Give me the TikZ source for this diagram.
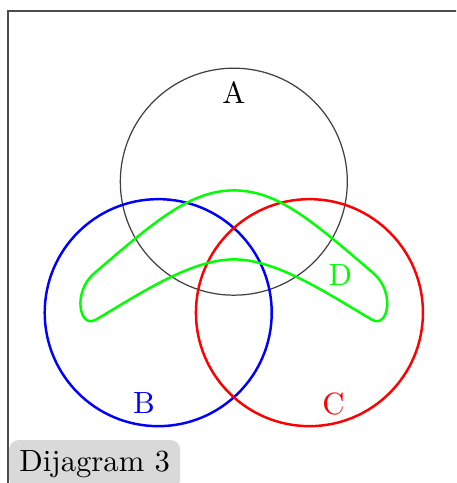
\documentclass[tikz,border=0pt]{standalone}
\usepackage{tikz}
\usetikzlibrary{positioning,calc}

\begin{document}
\begin{tikzpicture}[
      frame/.style={draw=black!70, line width=0.6pt},
      caption/.style={fill=gray!30, rounded corners=3pt, font=\normalsize},
      venn/.style={circle, draw, minimum size=2.6cm, inner sep=0pt},
      lbl/.style={inner sep=0pt}]
    \useasboundingbox (-2.678,-2.451) rectangle (2.546,3.081);
    \clip (-2.678,-2.451) rectangle (2.546,3.081);
    \node[frame, anchor=north west, minimum width=5.8cm, minimum height=5.5cm] (frame) at (-2.6,2.967) {};
    \node[venn, draw=black!75] (setA) at (90:1) {};
    \node[venn, draw=blue, thick] (setB) at (210:1) {};
    \node[venn, draw=red, thick] (setC) at (330:1) {};
    \draw[green, thick] (-1.6,-0.05) .. controls (-0.9,0.55) and (-0.5,0.9) .. (0,0.9)
      .. controls (0.5,0.9) and (0.9,0.55) .. (1.6,-0.05)
      .. controls (1.85,-0.264) and (1.77,-0.69) .. (1.58,-0.58)
      .. controls (1.1,-0.3) and (0.5,0.11) .. (0,0.11)
      .. controls (-0.5,0.11) and (-1.1,-0.3) .. (-1.58,-0.58)
      .. controls (-1.77,-0.69) and (-1.85,-0.264) .. (-1.6,-0.05) -- cycle;
    \node[lbl] (labA) at (0,2.02) {A};
    \node[lbl, text=blue] (labB) at (-1.03,-1.54) {B};
    \node[lbl, text=red] (labC) at (1.14,-1.55) {C};
    \node[lbl, text=green] (labD) at (1.22,-0.07) {D};
    \node[caption, anchor=south west] (cap) at ([xshift=0.02cm, yshift=0.04cm]frame.south west) {Dijagram 3};
\end{tikzpicture}
\end{document}
